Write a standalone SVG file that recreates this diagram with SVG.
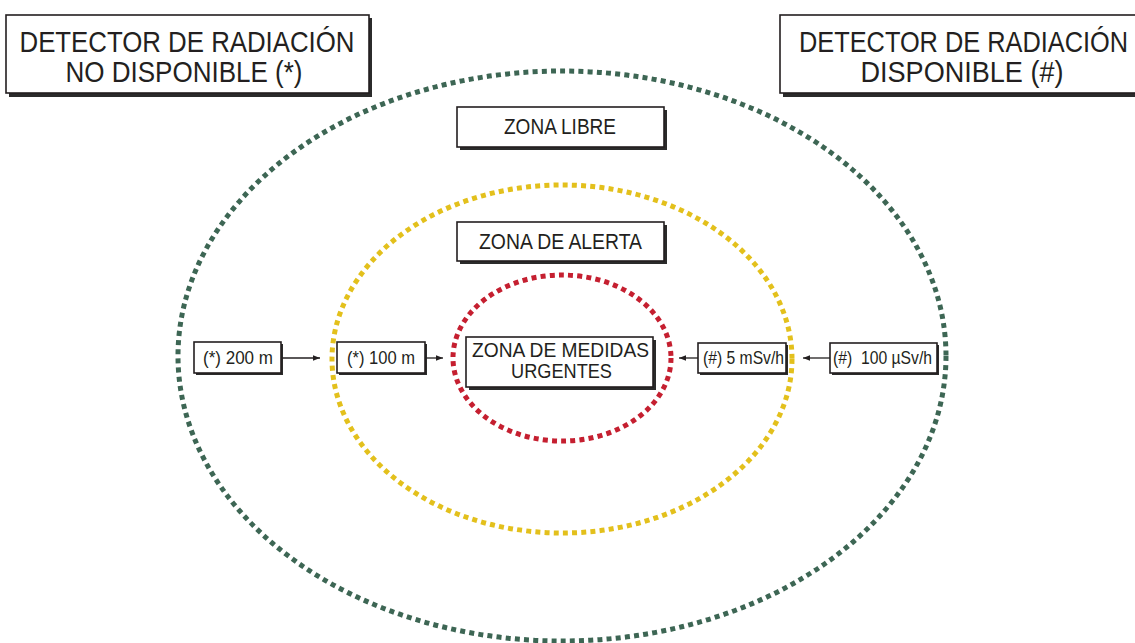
<svg xmlns="http://www.w3.org/2000/svg" width="1135" height="643" viewBox="0 0 1135 643">
<defs>
<style>
.ring{fill:none;stroke-width:5;stroke-dasharray:5 4.2;stroke-linecap:butt}
.box{fill:#fff;stroke:#231f20;stroke-width:1.6}
.sh{fill:#2b2b2b}
.t{font-family:"Liberation Sans",Arial,sans-serif;fill:#231f20;text-anchor:middle}
.big{font-size:30px}
.mid{font-size:22px}
.mid2{font-size:21px}
.sm{font-size:18px}
.con{stroke:#231f20;stroke-width:1.3;fill:none}
</style>
<marker id="ah" viewBox="0 0 10 10" refX="10" refY="5" markerWidth="7" markerHeight="7" markerUnits="userSpaceOnUse" orient="auto">
<path d="M0,1 L10,5 L0,9 Z" fill="#231f20"/>
</marker>
</defs>
<rect width="1135" height="643" fill="#fff"/>
<g id="rings">
<ellipse class="ring" cx="562" cy="356" rx="384" ry="285" stroke="#3d6654"/>
<ellipse class="ring" cx="562" cy="359" rx="230" ry="174" stroke="#e3c01c"/>
<ellipse class="ring" cx="562" cy="358" rx="109" ry="83" stroke="#c51f30"/>
</g>
<g id="det-no">
<rect class="sh" x="9" y="18" width="363" height="79"/>
<rect class="box" x="6" y="15" width="363" height="78"/>
<text class="t big" x="187" y="52" textLength="335" lengthAdjust="spacingAndGlyphs">DETECTOR DE RADIACIÓN</text>
<text class="t big" x="184" y="82" textLength="237" lengthAdjust="spacingAndGlyphs">NO DISPONIBLE (*)</text>
</g>
<g id="det-si">
<rect class="sh" x="783" y="18" width="370" height="79"/>
<rect class="box" x="780" y="15" width="370" height="78"/>
<text class="t big" style="text-anchor:end" x="1128" y="52" textLength="329" lengthAdjust="spacingAndGlyphs">DETECTOR DE RADIACIÓN</text>
<text class="t big" x="962" y="82" textLength="203" lengthAdjust="spacingAndGlyphs">DISPONIBLE (#)</text>
</g>
<g id="zona-libre">
<rect class="sh" x="460" y="110" width="207" height="40"/>
<rect class="box" x="457" y="107" width="207" height="40"/>
<text class="t mid" x="560" y="134" textLength="112" lengthAdjust="spacingAndGlyphs">ZONA LIBRE</text>
</g>
<g id="zona-alerta">
<rect class="sh" x="460" y="225" width="207" height="39"/>
<rect class="box" x="457" y="222" width="207" height="39"/>
<text class="t mid" x="560.5" y="249" textLength="163" lengthAdjust="spacingAndGlyphs">ZONA DE ALERTA</text>
</g>
<g id="zona-medidas">
<rect class="sh" x="469" y="340" width="187" height="50"/>
<rect class="box" x="466" y="337" width="187" height="50"/>
<text class="t mid2" x="560.5" y="357" textLength="177" lengthAdjust="spacingAndGlyphs">ZONA DE MEDIDAS</text>
<text class="t mid2" x="561.5" y="378" textLength="101" lengthAdjust="spacingAndGlyphs">URGENTES</text>
</g>
<g id="l200">
<rect class="sh" x="196" y="344" width="87" height="31"/>
<rect class="box" x="194" y="342" width="87" height="31"/>
<text class="t sm" x="238" y="364" textLength="70" lengthAdjust="spacingAndGlyphs">(*) 200 m</text>
</g>
<g id="l100">
<rect class="sh" x="339" y="344" width="88" height="31"/>
<rect class="box" x="337" y="342" width="88" height="31"/>
<text class="t sm" x="381" y="364" textLength="68" lengthAdjust="spacingAndGlyphs">(*) 100 m</text>
</g>
<g id="r5">
<rect class="sh" x="700" y="345" width="88" height="30"/>
<rect class="box" x="698" y="343" width="88" height="30"/>
<text class="t sm" x="743.5" y="364" textLength="81" lengthAdjust="spacingAndGlyphs">(#) 5 mSv/h</text>
</g>
<g id="r100">
<rect class="sh" x="832" y="345" width="107" height="30"/>
<rect class="box" x="830" y="343" width="107" height="30"/>
<text class="t sm" x="882.5" y="364" textLength="99" lengthAdjust="spacingAndGlyphs" xml:space="preserve">(#)  100 µSv/h</text>
</g>
<g id="connectors">
<line class="con" x1="281" y1="358" x2="320" y2="358" marker-end="url(#ah)"/>
<line class="con" x1="425" y1="358" x2="443" y2="358" marker-end="url(#ah)"/>
<line class="con" x1="698" y1="358" x2="679" y2="358" marker-end="url(#ah)"/>
<line class="con" x1="830" y1="358" x2="803" y2="358" marker-end="url(#ah)"/>
</g>
</svg>
